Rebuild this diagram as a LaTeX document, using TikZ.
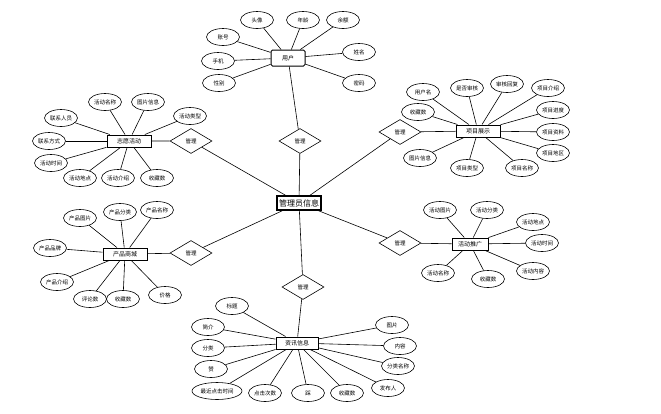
\documentclass[tikz,border=0pt]{standalone}
\usepackage{fontspec}
\setmainfont{Noto Sans CJK SC}
\usetikzlibrary{shapes.geometric}

\begin{document}
\begin{tikzpicture}[x=1pt, y=-1pt,
    attr/.style={draw, ellipse, line width=0.6pt, minimum width=33pt, minimum height=17pt, inner sep=0.5pt, font=\fontsize{5.5}{6}\selectfont},
    entity/.style={draw, line width=1pt, minimum height=12pt, inner sep=1pt, font=\fontsize{6}{7}\selectfont},
    rel/.style={draw, diamond, aspect=1.7, minimum width=42pt, minimum height=25pt, inner sep=0.5pt, line width=0.6pt, font=\fontsize{5.5}{6}\selectfont},
    link/.style={line width=0.6pt}]
    \useasboundingbox (0,0) rectangle (661,413);
    % centre
    \node[entity, line width=1.2pt, minimum width=44pt, minimum height=14pt, font=\fontsize{8}{9}\selectfont] (admin) at (299,203) {管理员信息};
    % entities
    \node[entity, rounded corners=1.5pt, minimum width=34pt, minimum height=16pt] (user) at (288,58) {用户};
    \node[entity, minimum width=44pt] (act) at (129,141) {志愿活动};
    \node[entity, minimum width=44pt] (proj) at (478,131) {项目展示};
    \node[entity, minimum width=44pt] (shop) at (125,254) {产品商城};
    \node[entity, minimum width=36pt] (promo) at (470,244) {活动推广};
    \node[entity, minimum width=42pt] (news) at (297,343) {资讯信息};
    % relations
    \node[rel] (rUser) at (300,141) {管理};
    \node[rel] (rAct) at (191,141) {管理};
    \node[rel] (rProj) at (400,132) {管理};
    \node[rel] (rShop) at (191,253) {管理};
    \node[rel] (rPromo) at (400,243) {管理};
    \node[rel] (rNews) at (303,287) {管理};
    \foreach \r/\e in {rUser/user, rAct/act, rProj/proj, rShop/shop, rPromo/promo, rNews/news} {
        \draw[link] (admin) -- (\r) -- (\e);
    }
    % attributes of user
    \foreach \n/\x/\y/\t in {1/257/20/头像, 2/303/20/年龄, 3/343/20/余额, 4/223/37/账号,
        5/218/61/手机, 6/219/83/性别, 7/359/52/姓名, 8/359/83/密码} {
        \node[attr] (u\n) at (\x,\y) {\t};
        \draw[link] (u\n) -- (user);
    }
    % attributes of act
    \foreach \n/\x/\y/\t in {1/105/102/活动名称, 2/148/102/图片信息, 3/190/116/活动类型,
        4/61/118/联系人员, 5/49/141/联系方式, 6/51/163/活动时间, 7/80/178/活动地点,
        8/118/178/活动介绍, 9/157/178/收藏数} {
        \node[attr] (a\n) at (\x,\y) {\t};
        \draw[link] (a\n) -- (act);
    }
    % attributes of proj
    \foreach \n/\x/\y/\t in {1/423/92/用户名, 2/467/88/是否审核, 3/507/84/审核回复,
        4/548/88/项目介绍, 5/553/110/项目进度, 6/553/132/项目资料, 7/553/153/项目地区,
        8/522/168/项目名称, 9/467/168/项目类型, 10/420/158/图片信息, 11/418/112/收藏数} {
        \node[attr] (p\n) at (\x,\y) {\t};
        \draw[link] (p\n) -- (proj);
    }
    % attributes of shop
    \foreach \n/\x/\y/\t in {1/80/218/产品图片, 2/120/212/产品分类, 3/157/210/产品名称,
        4/50/248/产品品牌, 5/57/282/产品介绍, 6/90/299/评论数, 7/123/299/收藏数, 8/165/295/价格} {
        \node[attr] (s\n) at (\x,\y) {\t};
        \draw[link] (s\n) -- (shop);
    }
    % attributes of promo
    \foreach \n/\x/\y/\t in {1/440/210/活动图片, 2/487/210/活动分类, 3/533/222/活动地点,
        4/542/243/活动时间, 5/533/271/活动内容, 6/488/279/收藏数, 7/438/273/活动名称} {
        \node[attr] (m\n) at (\x,\y) {\t};
        \draw[link] (m\n) -- (promo);
    }
    % attributes of news
    \foreach \n/\x/\y/\t in {1/232/306/标题, 2/208/327/简介, 3/208/348/分类, 4/211/369/赞,
        6/265/393/点击次数, 7/308/393/踩, 8/347/393/收藏数, 9/388/388/发布人,
        10/398/366/分类名称, 11/400/346/内容, 12/392/325/图片} {
        \node[attr] (n\n) at (\x,\y) {\t};
        \draw[link] (n\n) -- (news);
    }
    \node[attr, minimum width=50pt] (n5) at (217,391) {最近点击时间};
    \draw[link] (n5) -- (news);
\end{tikzpicture}
\end{document}
